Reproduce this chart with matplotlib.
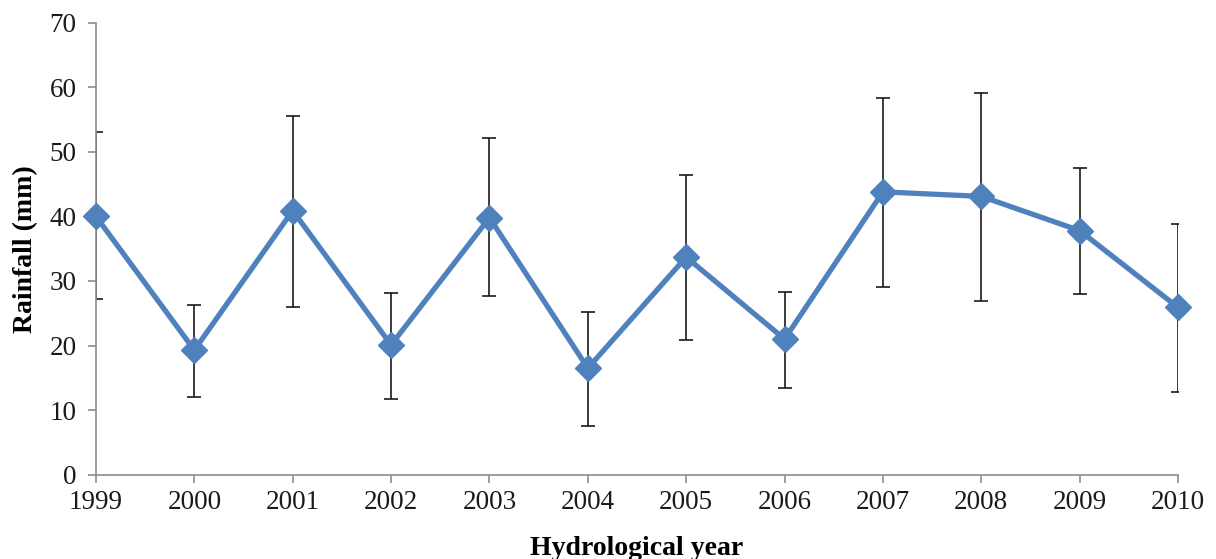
import matplotlib
matplotlib.use("Agg")
import matplotlib.pyplot as plt

years = [1999, 2000, 2001, 2002, 2003, 2004, 2005, 2006, 2007, 2008, 2009, 2010]
rainfall = [40.0, 19.3, 40.9, 20.1, 39.8, 16.5, 33.7, 21.0, 43.8, 43.1, 37.8, 25.9]
err_upper = [13.1, 7.0, 14.7, 8.0, 12.3, 8.7, 12.7, 7.3, 14.5, 16.0, 9.7, 12.9]
err_lower = [12.8, 7.3, 14.9, 8.4, 12.2, 9.0, 12.8, 7.6, 14.8, 16.2, 9.8, 13.1]
yticks = [0, 10, 20, 30, 40, 50, 60, 70]

plt.rcParams['font.family'] = ['Liberation Serif', 'DejaVu Serif']

fig = plt.figure(figsize=(12.16, 5.59), dpi=100)
ax = fig.add_axes([0.0789, 0.1508, 0.8899, 0.8086])

blue = '#4F81BD'
ax.errorbar(years, rainfall, yerr=[err_lower, err_upper], fmt='none',
            ecolor='#1a1a1a', elinewidth=1.2, capsize=5, capthick=1.2, zorder=2)
ax.plot(years, rainfall, color=blue, lw=3.8, marker='D', markersize=13,
        markerfacecolor=blue, markeredgecolor=blue, zorder=3, clip_on=False)

ax.set_xlim(1999, 2010)
ax.set_ylim(0, 70)
ax.set_xticks(years)
ax.set_xticklabels([str(y) for y in years])
ax.set_yticks(yticks)

for s in ['top', 'right']:
    ax.spines[s].set_visible(False)
for s in ['left', 'bottom']:
    ax.spines[s].set_color('#8c8c8c')
    ax.spines[s].set_linewidth(1.2)
ax.tick_params(axis='both', direction='out', length=6, width=1.2, color='#8c8c8c',
               labelsize=19.5, labelcolor='#1a1a1a')
ax.tick_params(axis='x', pad=5)
ax.tick_params(axis='y', pad=8)

ax.set_xlabel('Hydrological year', fontsize=20, fontweight='bold', labelpad=15)
ax.set_ylabel('Rainfall (mm)', fontsize=20, fontweight='bold', labelpad=8)

fig.savefig('out.png', dpi=100)
